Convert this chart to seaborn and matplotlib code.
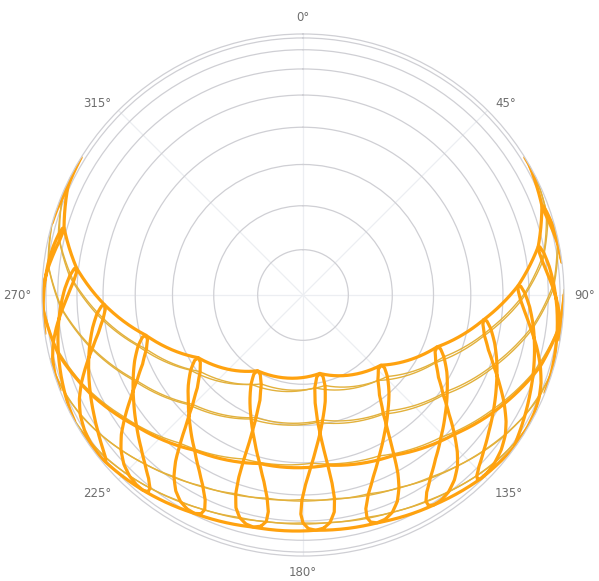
import numpy as np
import matplotlib
matplotlib.use("Agg")
import matplotlib.pyplot as plt
import seaborn as sns

# ---------------- data ----------------
hours = [5, 6, 7, 8, 9, 10, 11, 12, 13, 14, 15, 16, 17, 18, 19]
dates = ['Jan 06', 'Jan 21', 'Feb 06', 'Feb 21', 'Mar 06', 'Mar 21',
         'Apr 06', 'Apr 21', 'May 06', 'May 21', 'Jun 06', 'Jun 21',
         'Jul 06', 'Jul 21', 'Aug 06', 'Aug 21', 'Sep 06', 'Sep 21',
         'Oct 06', 'Oct 21', 'Nov 06', 'Nov 21', 'Dec 06', 'Dec 21']
N = None
# sun elevation (deg) at each clock hour, one row per date (None = below horizon)
elevation = [
    [N, N, N, 2.5, 11.3, 18.6, 23.8, 26.3, 25.8, 22.4, 16.4, 8.6, N, N, N],
    [N, N, N, 3.4, 12.6, 20.3, 25.9, 28.7, 28.5, 25.2, 19.3, 11.4, 2.0, N, N],
    [N, N, N, 6.0, 15.5, 23.7, 29.7, 32.9, 32.8, 29.5, 23.3, 15.1, 5.5, N, N],
    [N, N, N, 9.6, 19.5, 28.0, 34.5, 37.9, 37.8, 34.2, 27.6, 19.0, 9.0, N, N],
    [N, N, 2.5, 13.5, 23.6, 32.5, 39.2, 42.8, 42.6, 38.5, 31.4, 22.4, 12.1, 1.1, N],
    [N, N, 7.2, 18.3, 28.8, 38.0, 45.1, 48.8, 48.2, 43.5, 35.7, 26.1, 15.4, 4.2, N],
    [N, 0.9, 12.2, 23.4, 34.1, 43.8, 51.3, 55.1, 54.0, 48.4, 39.9, 29.7, 18.7, 7.4, N],
    [N, 5.1, 16.4, 27.7, 38.6, 48.7, 56.6, 60.6, 59.0, 52.6, 43.3, 32.7, 21.5, 10.2, N],
    [N, 8.6, 19.8, 31.1, 42.2, 52.6, 61.0, 65.3, 63.3, 56.0, 46.2, 35.3, 24.0, 12.8, 1.9],
    [0.5, 11.0, 22.1, 33.4, 44.6, 55.2, 64.2, 69.0, 66.7, 58.8, 48.6, 37.5, 26.2, 15.1, 4.4],
    [1.9, 12.3, 23.2, 34.5, 45.7, 56.6, 66.1, 71.4, 69.1, 61.0, 50.5, 39.4, 28.1, 17.0, 6.4],
    [2.0, 12.3, 23.1, 34.4, 45.7, 56.6, 66.3, 72.1, 70.2, 62.1, 51.6, 40.4, 29.1, 18.0, 7.4],
    [1.1, 11.3, 22.2, 33.4, 44.7, 55.6, 65.3, 71.3, 69.8, 62.0, 51.7, 40.6, 29.3, 18.1, 7.4],
    [N, 9.6, 20.5, 31.8, 43.1, 53.9, 63.3, 69.1, 67.9, 60.6, 50.6, 39.6, 28.3, 17.1, 6.3],
    [N, 7.2, 18.3, 29.6, 40.8, 51.3, 60.2, 65.4, 64.3, 57.6, 48.0, 37.2, 25.9, 14.6, 3.7],
    [N, 4.7, 16.0, 27.2, 38.2, 48.4, 56.6, 61.0, 59.8, 53.5, 44.3, 33.7, 22.5, 11.2, 0.1],
    [N, 1.9, 13.2, 24.4, 35.1, 44.6, 51.9, 55.4, 54.0, 48.1, 39.3, 29.0, 18.0, 6.7, N],
    [N, N, 10.4, 21.4, 31.7, 40.6, 47.0, 49.8, 48.1, 42.5, 34.1, 24.1, 13.2, 1.9, N],
    [N, N, 7.5, 18.2, 28.0, 36.2, 41.8, 44.0, 42.2, 36.7, 28.7, 19.0, 8.3, N, N],
    [N, N, 4.3, 14.7, 24.0, 31.6, 36.7, 38.4, 36.5, 31.4, 23.7, 14.3, 3.9, N, N],
    [N, N, 0.9, 10.9, 19.8, 26.9, 31.6, 33.1, 31.3, 26.5, 19.2, 10.2, 0.1, N, N],
    [N, N, N, 7.6, 16.2, 23.1, 27.6, 29.2, 27.6, 23.1, 16.2, 7.6, N, N, N],
    [N, N, N, 4.9, 13.4, 20.2, 24.8, 26.5, 25.3, 21.2, 14.7, 6.4, N, N, N],
    [N, N, N, 3.1, 11.7, 18.6, 23.4, 25.5, 24.6, 20.9, 14.7, 6.7, N, N, N],
]
# sun azimuth (deg, clockwise from north) at the same hours
azimuth = [
    [N, N, N, 123.1, 133.8, 146.0, 159.8, 174.9, 190.3, 205.0, 218.2, 229.9, N, N, N],
    [N, N, N, 120.4, 131.2, 143.5, 157.6, 173.2, 189.2, 204.6, 218.4, 230.5, 241.1, N, N],
    [N, N, N, 117.0, 128.0, 140.7, 155.4, 171.8, 189.1, 205.5, 220.1, 232.7, 243.7, N, N],
    [N, N, N, 113.4, 124.7, 137.9, 153.5, 171.2, 190.0, 207.6, 223.1, 236.1, 247.3, N, N],
    [N, N, 100.0, 110.3, 121.9, 135.5, 152.0, 171.2, 191.6, 210.5, 226.6, 239.9, 251.3, 261.5, N],
    [N, N, 96.3, 106.7, 118.4, 132.6, 150.4, 171.7, 194.4, 214.9, 231.7, 245.1, 256.4, 266.6, N],
    [N, 82.5, 92.3, 102.6, 114.5, 129.2, 148.4, 172.6, 198.4, 220.6, 237.7, 251.0, 262.1, 272.1, N],
    [N, 79.0, 88.6, 98.8, 110.6, 125.5, 146.0, 173.4, 202.7, 226.3, 243.4, 256.4, 267.1, 276.9, N],
    [N, 75.8, 85.2, 95.0, 106.5, 121.3, 142.8, 173.6, 206.9, 231.8, 248.7, 261.1, 271.4, 280.9, 290.4],
    [63.5, 72.9, 82.1, 91.6, 102.6, 117.0, 138.8, 172.8, 210.2, 236.2, 252.8, 264.7, 274.6, 283.8, 293.1],
    [61.3, 70.6, 79.6, 88.8, 99.3, 113.2, 134.6, 170.6, 211.9, 238.9, 255.3, 266.9, 276.6, 285.5, 294.6],
    [60.2, 69.5, 78.4, 87.5, 97.8, 111.2, 132.0, 167.9, 211.0, 239.1, 255.6, 267.2, 276.8, 285.7, 294.7],
    [60.2, 69.6, 78.5, 87.7, 98.0, 111.3, 131.7, 166.2, 208.3, 236.9, 254.0, 265.9, 275.7, 284.7, 293.7],
    [N, 71.0, 80.1, 89.5, 100.1, 113.7, 134.0, 166.3, 205.1, 233.3, 250.9, 263.3, 273.4, 282.6, 291.8],
    [N, 73.9, 83.3, 93.0, 104.1, 118.2, 138.5, 168.2, 202.3, 228.9, 246.7, 259.6, 270.1, 279.6, 289.0],
    [N, 77.8, 87.4, 97.5, 109.1, 123.7, 143.8, 171.1, 200.9, 225.2, 242.7, 255.8, 266.6, 276.4, 286.0],
    [N, 82.8, 92.7, 103.1, 115.1, 130.1, 149.7, 174.3, 200.1, 222.0, 238.8, 251.9, 262.8, 272.8, N],
    [N, N, 98.0, 108.6, 120.8, 135.9, 154.7, 177.0, 199.8, 219.6, 235.5, 248.4, 259.3, 269.3, N],
    [N, N, 103.2, 113.9, 126.2, 141.0, 158.8, 179.1, 199.4, 217.5, 232.5, 245.0, 255.8, N, N],
    [N, N, 107.9, 118.5, 130.7, 145.0, 161.8, 180.3, 198.7, 215.4, 229.6, 241.7, 252.3, N, N],
    [N, N, 112.0, 122.4, 134.2, 147.9, 163.6, 180.6, 197.5, 213.0, 226.6, 238.3, 248.6, N, N],
    [N, N, N, 124.7, 136.1, 149.2, 164.0, 180.0, 195.9, 210.7, 223.8, 235.2, N, N, N],
    [N, N, N, 125.6, 136.6, 149.2, 163.4, 178.7, 194.0, 208.4, 221.3, 232.6, N, N, N],
    [N, N, N, 125.0, 135.9, 148.1, 162.0, 176.9, 192.1, 206.4, 219.4, 230.7, N, N, N],
]
# azimuth where each day's path meets the horizon
sunrise_azimuth = [120.5, 117.0, 111.1, 104.3, 97.8, 90.0, 81.7, 74.5, 68.1, 63.0, 59.4, 58.2,
                   59.2, 62.2, 67.4, 73.6, 81.2, 88.8, 96.5, 104.0, 111.2, 116.7, 120.4, 121.8]
sunset_azimuth = [239.5, 243.2, 249.1, 255.9, 262.4, 270.3, 278.5, 285.8, 292.1, 297.2, 300.7, 301.8,
                  300.7, 297.6, 292.4, 286.2, 278.6, 271.0, 263.3, 255.8, 248.7, 243.2, 239.6, 238.2]
main_days = ['Mar 21', 'Jun 21', 'Dec 21']
other_days = ['Jan 21', 'Feb 21', 'Apr 21', 'May 21', 'Jul 21', 'Aug 21',
              'Sep 21', 'Oct 21', 'Nov 21']
grid_elevations = [10, 20, 30, 40, 50, 60, 70, 80]
angle_ticks = [0, 45, 90, 135, 180, 225, 270, 315]
angle_labels = ['0°', '45°', '90°', '135°', '180°', '225°', '270°', '315°']

# ---------------- figure ----------------
EL = np.array(elevation, dtype=float)
AZ = np.array(azimuth, dtype=float)
ORANGE = '#ffa20f'
GOLD = '#e2b13c'

fig = plt.figure(figsize=(5.99, 5.81), dpi=100, facecolor='white')
ax = fig.add_axes([0.0701, 0.0430, 0.8715, 0.8985], projection='polar')
ax.set_theta_zero_location('N')
ax.set_theta_direction(-1)


def to_r(elev):
    # orthographic sky projection: radius = cos(elevation)
    return np.cos(np.radians(np.asarray(elev, dtype=float)))


def draw(az_deg, elev_deg, color, lw):
    sns.lineplot(x=np.radians(np.asarray(az_deg, dtype=float)), y=to_r(elev_deg),
                 sort=False, estimator=None, color=color, linewidth=lw, ax=ax)
    ln = ax.lines[-1]
    ln.get_path()._interpolation_steps = 40   # draw segments as polar curves
    ln.recache(always=True)
    ln.set_solid_joinstyle('round')
    ln.set_solid_capstyle('round')


def day_path(name):
    i = dates.index(name)
    ok = ~np.isnan(EL[i])
    a = [sunrise_azimuth[i]] + list(AZ[i][ok]) + [sunset_azimuth[i]]
    e = [0.0] + list(EL[i][ok]) + [0.0]
    return a, e


# thin daily paths
for name in other_days:
    a, e = day_path(name)
    draw(a, e, GOLD, 1.0)
# highlighted daily paths
for name in main_days:
    a, e = day_path(name)
    draw(a, e, ORANGE, 2.3)
# hourly analemmas
nd = len(dates)
for j in range(len(hours)):
    ok = [not np.isnan(EL[i, j]) for i in range(nd)]
    if all(ok):
        segs = [list(range(nd)) + [0]]
    else:
        k = ok.index(False)
        segs, cur = [], []
        for t in range(nd):
            i = (k + 1 + t) % nd
            if ok[i]:
                cur.append(i)
            else:
                if len(cur) > 1:
                    segs.append(cur)
                cur = []
        if len(cur) > 1:
            segs.append(cur)
    for sg in segs:
        draw([AZ[i, j] for i in sg], [EL[i, j] for i in sg], ORANGE, 2.3)

ax.set_ylim(0, 1)
ax.set_rticks(to_r(grid_elevations))
ax.set_yticklabels([])
ax.set_thetagrids(angle_ticks, labels=[''] * len(angle_ticks))
ax.yaxis.grid(True, color='#cfcfd4', linewidth=0.9)
ax.xaxis.grid(True, color='#eceef2', linewidth=0.9)
ax.spines['polar'].set_color('#cfcfd4')
ax.spines['polar'].set_linewidth(0.9)
ax.set_xlabel('')
ax.set_ylabel('')

align = {0: ('center', 'bottom'), 45: ('left', 'center'), 90: ('left', 'center'),
         135: ('left', 'top'), 180: ('center', 'top'), 225: ('right', 'top'),
         270: ('right', 'center'), 315: ('right', 'center')}
for ang, lab in zip(angle_ticks, angle_labels):
    ha, va = align[ang]
    ax.text(np.radians(ang), 1.04, lab, ha=ha, va=va, fontsize=8.5,
            color='#6e6e6e', clip_on=False)

fig.savefig('out.png', dpi=100, facecolor='white')
